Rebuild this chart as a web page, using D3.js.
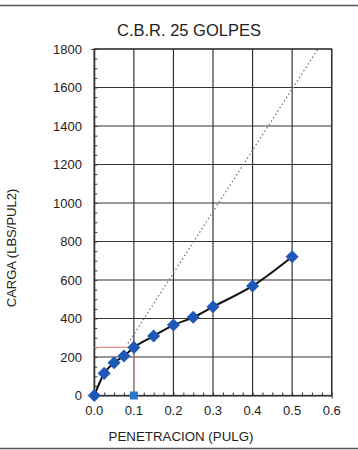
<!DOCTYPE html>
<html><head><meta charset="utf-8">
<script src="https://cdn.jsdelivr.net/npm/d3@7"></script>
<style>body{margin:0;background:#fff}svg{display:block}text{font-family:"Liberation Sans",Arial,sans-serif}</style>
</head><body>
<script>
const penetration = [0, 0.025, 0.05, 0.075, 0.1, 0.15, 0.2, 0.25, 0.3, 0.4, 0.5];
const load = [0, 115, 170, 205, 250, 309, 366, 406, 461, 569, 721];
const correctedX = [0.1];
const correctedY = [0];
const tangentX = [0.085, 0.565];
const tangentY = [270, 1800];
const refX = [0, 0.1, 0.1];
const refY = [250, 250, 0];
const xTicks = [0, 0.1, 0.2, 0.3, 0.4, 0.5, 0.6];
const yTicks = [0, 200, 400, 600, 800, 1000, 1200, 1400, 1600, 1800];

const W = 358, H = 450;
const svg = d3.select("body").append("svg").attr("width", W).attr("height", H);
const m = {l: 94.3, r: 331.7, t: 49, b: 395.5};
const x = d3.scaleLinear().domain([0, 0.6]).range([m.l, m.r]);
const y = d3.scaleLinear().domain([0, 1800]).range([m.b, m.t]);

// page frame lines
svg.append("line").attr("x1",0).attr("x2",W).attr("y1",5.5).attr("y2",5.5).attr("stroke","#555").attr("stroke-width",1.5);
svg.append("line").attr("x1",0).attr("x2",W).attr("y1",448.5).attr("y2",448.5).attr("stroke","#555").attr("stroke-width",1.5);

// grid
const g = svg.append("g");
g.selectAll(".gx").data(xTicks).join("line").attr("x1",d=>x(d)).attr("x2",d=>x(d)).attr("y1",m.t).attr("y2",m.b).attr("stroke","#333").attr("stroke-width",1.2);
g.selectAll(".gy").data(yTicks).join("line").attr("x1",m.l).attr("x2",m.r).attr("y1",d=>y(d)).attr("y2",d=>y(d)).attr("stroke","#333").attr("stroke-width",1.2);

// axes with minor ticks
const xAxis = d3.axisBottom(x).tickValues(d3.range(0, 0.6001, 0.025)).tickSize(3).tickFormat("");
svg.append("g").attr("transform",`translate(0,${m.b})`).call(xAxis).call(s=>{s.select(".domain").attr("stroke","#333");s.selectAll("line").attr("stroke","#333").attr("transform","translate(0,-3)");});
const yAxis = d3.axisLeft(y).tickValues(d3.range(0, 1801, 50)).tickSize(3).tickFormat("");
svg.append("g").attr("transform",`translate(${m.l},0)`).call(yAxis).call(s=>{s.select(".domain").attr("stroke","#333");s.selectAll("line").attr("stroke","#333").attr("transform","translate(3,0)");});
svg.append("rect").attr("x",m.l).attr("y",m.t).attr("width",m.r-m.l).attr("height",m.b-m.t).attr("fill","none").attr("stroke","#333").attr("stroke-width",1.3);

// tick labels
svg.selectAll(".xl").data(xTicks).join("text").attr("x",d=>x(d)).attr("y",415).attr("text-anchor","middle").attr("font-size",13).attr("fill","#222").text(d=>d.toFixed(1));
svg.selectAll(".yl").data(yTicks).join("text").attr("x",82).attr("y",d=>y(d)+4.5).attr("text-anchor","end").attr("font-size",13).attr("fill","#222").text(d=>d);

// reference red lines
const line = d3.line().x(d=>x(d[0])).y(d=>y(d[1]));
svg.append("path").attr("d", line(refX.map((v,i)=>[v, refY[i]]))).attr("fill","none").attr("stroke","#e08a92").attr("stroke-width",1.1);

// tangent dotted line
svg.append("path").attr("d", line(tangentX.map((v,i)=>[v, tangentY[i]]))).attr("fill","none").attr("stroke","#777").attr("stroke-width",1.3).attr("stroke-dasharray","1.5,2.5");

// curve
const curve = d3.line().x(d=>x(d[0])).y(d=>y(d[1])).curve(d3.curveMonotoneX);
const pts = penetration.map((v,i)=>[v, load[i]]);
svg.append("path").attr("d", curve(pts)).attr("fill","none").attr("stroke","#111").attr("stroke-width",2);

// diamonds
const sym = d3.symbol().type(d3.symbolSquare).size(85);
svg.selectAll(".pt").data(pts).join("path").attr("d", sym).attr("transform",d=>`translate(${x(d[0])},${y(d[1])}) rotate(45)`).attr("fill","#1f58b8");
// corrected square
svg.selectAll(".sq").data(correctedX.map((v,i)=>[v, correctedY[i]])).join("path").attr("d", d3.symbol().type(d3.symbolSquare).size(64)).attr("transform",d=>`translate(${x(d[0])},${y(d[1])})`).attr("fill","#2a78cc");

// titles
svg.append("text").attr("x",189).attr("y",36).attr("text-anchor","middle").attr("font-size",16.5).attr("fill","#222").text("C.B.R. 25 GOLPES");
svg.append("text").attr("x",181).attr("y",441).attr("text-anchor","middle").attr("font-size",13.3).attr("fill","#222").text("PENETRACION (PULG)");
svg.append("text").attr("transform","translate(16,248) rotate(-90)").attr("text-anchor","middle").attr("font-size",13).attr("fill","#222").text("CARGA (LBS/PUL2)");
</script>
</body></html>
